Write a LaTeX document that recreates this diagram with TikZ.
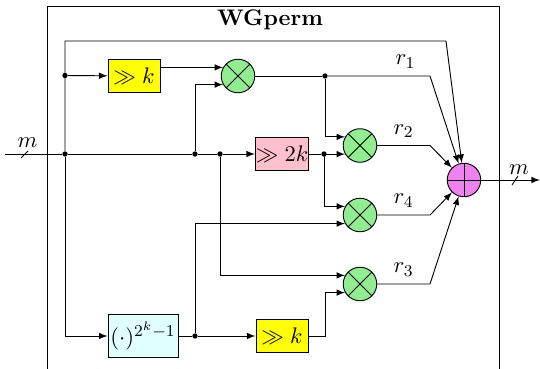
\documentclass[tikz,border=0pt,11pt]{standalone}
\usepackage{amsmath}
\definecolor{shiftyellow}{HTML}{FFFF00}
\definecolor{shiftpink}{HTML}{FFC0CB}
\definecolor{powcyan}{HTML}{E0FFFF}
\definecolor{mulgreen}{HTML}{90EE90}
\definecolor{addviolet}{HTML}{EE82EE}
\begin{document}
\begin{tikzpicture}[x=0.486pt,y=-0.486pt,line width=0.45pt,>=latex,
  shiftbox/.style={draw,minimum width=25.3pt,minimum height=16.4pt,inner xsep=0.2pt,inner ysep=1pt},
  mulnode/.style={draw,circle,fill=mulgreen,minimum size=16.3pt,inner sep=0pt,
    path picture={\draw (path picture bounding box.north west) -- (path picture bounding box.south east)
                        (path picture bounding box.south west) -- (path picture bounding box.north east);}},
  addnode/.style={draw,circle,fill=addviolet,minimum size=16.3pt,inner sep=0pt,
    path picture={\draw (path picture bounding box.north) -- (path picture bounding box.south)
                        (path picture bounding box.west) -- (path picture bounding box.east);}},
  dotnode/.style={circle,fill,inner sep=0pt,minimum size=2.6pt}]
\useasboundingbox (0,0) rectangle (540,369);
% ---- frame and title ----
\draw (47,369) -- (47,6) -- (499,6) -- (499,369);
\node[font=\bfseries] (title) at (270,20) {WGperm};
% ---- blocks ----
\node[shiftbox,fill=shiftyellow] (shk1) at (134,76) {$\gg k$};
\node[shiftbox,fill=shiftpink] (sh2k) at (282,154) {$\gg 2k$};
\node[shiftbox,fill=powcyan,minimum width=34pt,minimum height=21pt] (pw) at (143,336) {$(\cdot)^{2^k-1}$};
\node[shiftbox,fill=shiftyellow] (shk2) at (282,336) {$\gg k$};
\node[mulnode] (mul1) at (238,76) {};
\node[mulnode] (mul2) at (360,145.5) {};
\node[mulnode] (mul4) at (360,215) {};
\node[mulnode] (mul3) at (360,284) {};
\node[addnode] (add) at (464,180) {};
% ---- branch points ----
\coordinate (in) at (5,154);
\node[dotnode] (a) at (65,154) {};
\node[dotnode] (b) at (65,75.5) {};
\node[dotnode] (c) at (195,154) {};
\node[dotnode] (d) at (220,154) {};
\node[dotnode] (e) at (325,76) {};
\node[dotnode] (f) at (324,154) {};
\node[dotnode] (g) at (195,336) {};
\coordinate (out) at (540,180);
% ---- input and output buses ----
\draw (in) -- (a) -- (c) -- (d);
\draw (21,158) -- (28,151);
\node (min) at (27.5,143) {$m$};
\draw[->] (add) -- (out);
\draw (512,185) -- (518,176);
\node (mout) at (519,170) {$m$};
% ---- connections ----
\draw[->] (d) -- (sh2k);
\draw[->] (a) |- (446,41) -- (add);
\draw[->] (b) -- (shk1);
\draw[->] (a) |- (pw);
\draw (pw) -- (g);
\draw[->] (g) -- (shk2);
\draw[->] (shk1.east |- mul1.150) -- (mul1.150);
\draw[->] (c) |- (mul1.210);
\draw (sh2k) -- (f);
\draw[->] (e) |- (mul2.150);
\draw[->] (f) |- (mul2.210);
\draw[->] (f) |- (mul4.150);
\draw[->] (g) |- (mul4.210);
\draw[->] (d) |- (mul3.150);
\draw[->] (shk2) -- ++(43,0) |- (mul3.210);
% ---- products into the adder ----
\draw (mul1) -- (e);
\draw[->] (e) -- node[above,pos=0.76] {$r_1$} (430,76) -- (add);
\draw[->] (mul2) -- node[above] {$r_2$} (430,145.5) -- (add);
\draw[->] (mul4) -- node[above] {$r_4$} (430,215) -- (add);
\draw[->] (mul3) -- node[above] {$r_3$} (430,284) -- (add);
\end{tikzpicture}
\end{document}
